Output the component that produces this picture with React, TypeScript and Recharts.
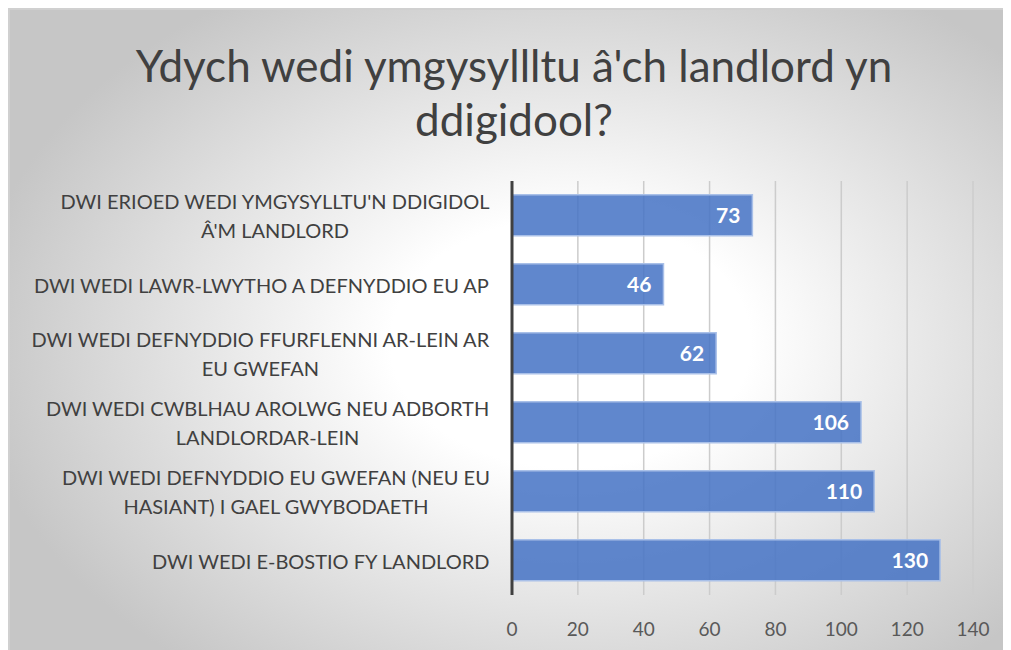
import React from "react";
import { BarChart, Bar, XAxis, YAxis, CartesianGrid, LabelList } from "recharts";

const titleLines = ["Ydych wedi ymgysyllltu â'ch landlord yn", "ddigidool?"];
const categoryLines: string[][] = [
  ["DWI ERIOED WEDI YMGYSYLLTU'N DDIGIDOL", "Â'M LANDLORD"],
  ["DWI WEDI LAWR-LWYTHO A DEFNYDDIO EU AP"],
  ["DWI WEDI DEFNYDDIO FFURFLENNI AR-LEIN AR", "EU GWEFAN"],
  ["DWI WEDI CWBLHAU AROLWG NEU ADBORTH", "LANDLORDAR-LEIN"],
  ["DWI WEDI DEFNYDDIO EU GWEFAN (NEU EU", "HASIANT) I GAEL GWYBODAETH"],
  ["DWI WEDI E-BOSTIO FY LANDLORD"],
];
const values = [73, 46, 62, 106, 110, 130];
const xTicks = [0, 20, 40, 60, 80, 100, 120, 140];

const data = categoryLines.map((lines, i) => ({ key: String(i), value: values[i] }));

const FONT = "Lato, 'Open Sans', sans-serif";
const LABEL_SIZE = 20;

let ctx: CanvasRenderingContext2D | null = null;
function measure(s: string): number {
  if (!ctx) {
    const c = document.createElement("canvas");
    ctx = c.getContext("2d");
  }
  if (!ctx) return s.length * 10;
  ctx.font = `${LABEL_SIZE}px Lato, 'Open Sans', sans-serif`;
  return ctx.measureText(s).width;
}

const YTick = (props: any) => {
  const { x, y, payload } = props;
  const lines = categoryLines[Number(payload.value)] || [];
  const lh = 29;
  const startY = y - ((lines.length - 1) * lh) / 2;
  const maxW = Math.max(...lines.map(measure));
  const cx = x - maxW / 2;
  return (
    <text x={cx} y={startY} textAnchor="middle" fill="#404040" fontSize={LABEL_SIZE} fontFamily={FONT} dominantBaseline="central">
      {lines.map((l, i) => (
        <tspan key={i} x={cx} y={startY + i * lh} dominantBaseline="central">{l}</tspan>
      ))}
    </text>
  );
};

const XTick = (props: any) => {
  const { x, y, payload } = props;
  return (
    <text x={x} y={y + 25} textAnchor="middle" fill="#595959" fontSize={19} fontFamily={FONT} dominantBaseline="central">
      {payload.value}
    </text>
  );
};

export default function App() {
  return (
    <div
      style={{
        position: "relative",
        width: 1003,
        height: 642,
        boxSizing: "border-box",
        borderTop: "2px solid #d0d0d0",
        borderLeft: "2px solid #d0d0d0",
        background: "radial-gradient(ellipse 60% 65% at 56% 52%, #ffffff 30%, #c6c6c6 100%)",
        overflow: "hidden",
      }}
    >
      <div
        style={{
          position: "absolute",
          left: 0,
          top: 28,
          width: 1008,
          textAlign: "center",
          fontFamily: FONT,
          fontSize: 44,
          lineHeight: "54px",
          color: "#404040",
        }}
      >
        {titleLines.map((t, i) => (
          <div key={i}>{t}</div>
        ))}
      </div>
      <BarChart
        width={1001}
        height={640}
        data={data}
        layout="vertical"
        margin={{ top: 171, right: 38, bottom: 23, left: 0 }}
        barCategoryGap="20%"
        style={{ position: "absolute", left: 0, top: 0 }}
      >
        <CartesianGrid horizontal={false} stroke="#cccccc" strokeWidth={1.5} />
        <XAxis
          type="number"
          domain={[0, 140]}
          ticks={xTicks}
          axisLine={false}
          tickLine={false}
          tick={<XTick />}
          height={32}
          interval={0}
        />
        <YAxis
          type="category"
          dataKey="key"
          width={502}
          axisLine={{ stroke: "#404040", strokeWidth: 3 }}
          tickLine={false}
          tickSize={0}
          tickMargin={22}
          tick={<YTick />}
          interval={0}
        />
        <Bar dataKey="value" fill="#4472C4" fillOpacity={0.85} stroke="#a9c0e8" strokeWidth={1.5} isAnimationActive={false}>
          <LabelList dataKey="value" position="insideRight" offset={12} fill="#ffffff" fontSize={21} fontWeight="bold" fontFamily={FONT} />
        </Bar>
      </BarChart>
    </div>
  );
}
